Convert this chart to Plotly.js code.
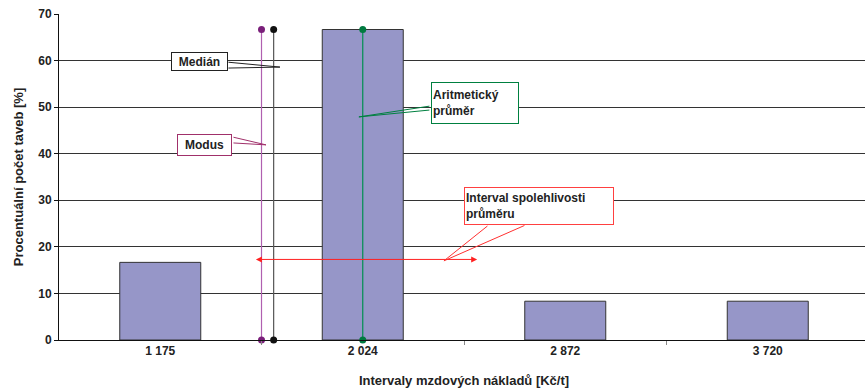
<!DOCTYPE html>
<html><head><meta charset="utf-8">
<script src="https://cdn.plot.ly/plotly-3.0.1.min.js"></script>
<style>html,body{margin:0;padding:0;overflow:hidden;background:#fff}#c{width:870px;height:392px}</style>
</head><body><div id="c"></div>
<script>
// Data
const categories = ['1 175', '2 024', '2 872', '3 720'];
const percentages = [16.67, 66.67, 8.33, 8.33];
// statistic positions expressed in category-index units
const modusX = 0.50;
const medianX = 0.56;
const meanX = 1.00;
const statTop = 66.67;
const ciLow = 0.465, ciHigh = 1.565, ciLevel = 17.3;

const idx = categories.map((_, i) => i);
const F = '"Liberation Sans", Arial, sans-serif';
const bold = (s, c) => ({family: F, size: s, color: c || '#222', weight: 'bold'});

function vline(x, lineColor, markerColor) {
  return {
    type: 'scatter', mode: 'lines+markers', x: [x, x], y: [0, statTop],
    line: {color: lineColor, width: 1.2},
    marker: {color: markerColor, size: 7},
    hoverinfo: 'skip', showlegend: false, cliponaxis: false
  };
}

const traces = [
  {type: 'bar', x: idx, y: percentages, width: 0.4,
   marker: {color: '#9696c8', line: {color: '#333333', width: 1}}, showlegend: false},
  vline(modusX, '#b060b0', '#7a1f7a'),
  vline(medianX, '#555555', '#111111'),
  vline(meanX, '#009050', '#007a40')
];

function box(text, x, y, w, h, col, align) {
  return {x: x, y: y, xref: 'x', yref: 'y', text: text, showarrow: false,
    font: bold(12), bgcolor: '#ffffff',
    bordercolor: col, borderwidth: 1, borderpad: 1, width: w, height: h,
    align: align || 'center'};
}
function ptr(x, y, ax, ay, col) {
  return {x: x, y: y, xref: 'x', yref: 'y', text: '', showarrow: true,
    arrowhead: 0, arrowwidth: 1, arrowcolor: col, ax: ax, ay: ay,
    standoff: 0, startstandoff: 0};
}

const annotations = [
  ptr(0.591, 58.6, -53, -5, '#222'), ptr(0.591, 58.6, -53, 1, '#222'),
  box('Medián', 0.193, 59.9, 53, 15, '#222'),
  ptr(0.522, 41.9, -34, -8, '#a0306a'), ptr(0.522, 41.9, -34, -2, '#a0306a'),
  box('Modus', 0.218, 41.9, 51, 18, '#a0306a'),
  ptr(0.981, 47.9, 72, -11, '#008040'), ptr(0.981, 47.9, 72, -7, '#008040'),
  box('Aritmetický<br>průměr', 1.554, 50.9, 84, 38, '#008040', 'left'),
  {x: ciHigh, y: ciLevel, ax: ciLow, ay: ciLevel, xref: 'x', yref: 'y', axref: 'x', ayref: 'y',
   text: '', showarrow: true, arrowhead: 2, arrowside: 'end+start', arrowsize: 1.2,
   arrowwidth: 1, arrowcolor: '#ff2020', standoff: 0, startstandoff: 0},
  ptr(1.401, 17.0, 45, -36, '#ff3030'), ptr(1.401, 17.0, 82, -36, '#ff3030'),
  box('Interval spolehlivosti<br>průměru', 1.870, 28.8, 146, 34, '#ff4040', 'left')
];

const layout = {
  width: 870, height: 392,
  margin: {l: 59, r: 1, t: 14, b: 52},
  paper_bgcolor: '#fff', plot_bgcolor: '#fff',
  font: {family: F, size: 12, color: '#222'},
  showlegend: false,
  xaxis: {
    range: [-0.5, 3.5], tickvals: idx, ticktext: categories,
    showgrid: false, zeroline: false, showline: true, linecolor: '#111', linewidth: 1,
    ticks: '', tickfont: bold(12),
    minor: {tickvals: [0.5, 1.5, 2.5], ticks: 'outside', ticklen: 4, tickcolor: '#888', showgrid: false},
    title: {text: 'Intervaly mzdových nákladů [Kč/t]', font: bold(13), standoff: 18}
  },
  yaxis: {
    range: [0, 70], dtick: 10, showgrid: true, gridcolor: '#333', gridwidth: 1,
    zeroline: false, showline: true, linecolor: '#111', linewidth: 1,
    ticks: 'outside', ticklen: 4, tickcolor: '#111',
    tickfont: bold(12),
    title: {text: 'Procentuální počet taveb [%]', font: bold(13), standoff: 11}
  },
  annotations: annotations
};

Plotly.newPlot('c', traces, layout, {staticPlot: true, displayModeBar: false});
</script></body></html>
